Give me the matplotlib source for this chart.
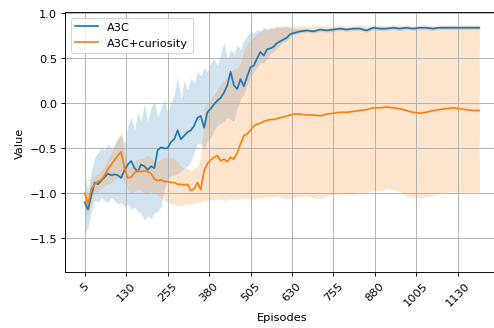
import numpy as np
import matplotlib
matplotlib.use("Agg")
import matplotlib.pyplot as plt

# episodes: every 10 up to 655, then every 20
episodes = np.concatenate([np.arange(5, 665, 10), np.arange(675, 1200, 20)])

a3c_mean = [
    -1.10, -1.18, -1.02, -0.88, -0.90, -0.86, -0.82, -0.78, -0.80, -0.79, -0.80,
    -0.83, -0.74, -0.68, -0.64, -0.72, -0.76, -0.68, -0.70, -0.74, -0.70, -0.72,
    -0.52, -0.49, -0.50, -0.50, -0.43, -0.40, -0.30, -0.40, -0.36, -0.32, -0.30,
    -0.25, -0.16, -0.14, -0.27, -0.10, -0.06, -0.01, 0.03, 0.06, 0.12, 0.20,
    0.35, 0.20, 0.16, 0.27, 0.19, 0.30, 0.40, 0.42, 0.50, 0.57, 0.53,
    0.60, 0.61, 0.63, 0.67, 0.69, 0.71, 0.73, 0.77, 0.78, 0.79, 0.80,
    0.81, 0.80, 0.82, 0.81, 0.82, 0.83, 0.82, 0.83, 0.83, 0.81, 0.84, 0.83, 0.83, 0.84,
    0.83, 0.84, 0.83, 0.84, 0.84, 0.83, 0.84, 0.84, 0.84, 0.84, 0.84, 0.84, 0.84]
a3c_upper = [
    -0.82, -0.95, -0.75, -0.60, -0.55, -0.50, -0.52, -0.45, -0.50, -0.47, -0.40,
    -0.33, -0.45, -0.25, -0.15, -0.30, -0.10, -0.20, 0.00, -0.20, -0.05, 0.02,
    -0.15, -0.05, 0.05, -0.10, 0.00, 0.10, 0.30, 0.05, 0.25, 0.15, 0.28,
    0.22, 0.35, 0.30, 0.40, 0.35, 0.45, 0.50, 0.42, 0.55, 0.68, 0.50,
    0.60, 0.55, 0.65, 0.60, 0.70, 0.75, 0.80, 0.78, 0.82, 0.80, 0.85,
    0.82, 0.84, 0.83, 0.85, 0.84, 0.85, 0.85, 0.84, 0.83, 0.83, 0.83,
    0.83, 0.82, 0.84, 0.83, 0.84, 0.85, 0.84, 0.85, 0.85, 0.83, 0.86, 0.85, 0.85, 0.86,
    0.85, 0.86, 0.85, 0.86, 0.86, 0.85, 0.86, 0.86, 0.86, 0.86, 0.86, 0.86, 0.86]
a3c_lower = [
    -1.45, -1.38, -1.20, -1.08, -1.10, -1.05, -1.08, -1.10, -1.05, -1.08, -1.12,
    -1.10, -1.15, -1.12, -1.18, -1.15, -1.20, -1.22, -1.30, -1.25, -1.28, -1.22,
    -1.20, -1.15, -0.95, -0.85, -0.80, -0.80, -0.78, -0.75, -0.72, -0.70, -0.65,
    -0.55, -0.45, -0.45, -0.50, -0.42, -0.38, -0.30, -0.25, -0.22, -0.20, -0.15,
    -0.18, -0.20, -0.05, 0.05, 0.10, 0.20, 0.30, 0.35, 0.40, 0.45, 0.45,
    0.50, 0.55, 0.58, 0.62, 0.65, 0.68, 0.70, 0.74, 0.76, 0.77, 0.78,
    0.79, 0.78, 0.80, 0.79, 0.80, 0.81, 0.80, 0.81, 0.81, 0.79, 0.82, 0.81, 0.81, 0.82,
    0.81, 0.82, 0.81, 0.82, 0.82, 0.81, 0.82, 0.82, 0.82, 0.82, 0.82, 0.82, 0.82]

cur_mean = [
    -1.00, -1.12, -0.95, -0.90, -0.87, -0.85, -0.80, -0.73, -0.68, -0.63, -0.58,
    -0.54, -0.72, -0.83, -0.82, -0.77, -0.75, -0.76, -0.75, -0.76, -0.78, -0.84,
    -0.86, -0.85, -0.87, -0.87, -0.88, -0.88, -0.90, -0.90, -0.91, -0.90, -0.97,
    -0.95, -0.88, -0.96, -0.75, -0.67, -0.63, -0.60, -0.58, -0.64, -0.62, -0.65,
    -0.60, -0.62, -0.55, -0.45, -0.36, -0.34, -0.30, -0.25, -0.23, -0.22, -0.20,
    -0.19, -0.18, -0.18, -0.17, -0.16, -0.15, -0.14, -0.13, -0.12, -0.12, -0.12,
    -0.13, -0.13, -0.14, -0.12, -0.11, -0.10, -0.10, -0.09, -0.08, -0.07, -0.05, -0.05, -0.04, -0.05,
    -0.06, -0.08, -0.10, -0.11, -0.10, -0.08, -0.07, -0.06, -0.05, -0.06, -0.07, -0.08, -0.08]
cur_upper = [
    -0.95, -1.00, -0.85, -0.80, -0.78, -0.75, -0.70, -0.62, -0.55, -0.45, -0.38,
    -0.35, -0.55, -0.70, -0.70, -0.65, -0.62, -0.62, -0.60, -0.58, -0.60, -0.65,
    -0.65, -0.62, -0.60, -0.60, -0.60, -0.62, -0.65, -0.70, -0.72, -0.72, -0.75,
    -0.72, -0.70, -0.60, -0.05, 0.00, 0.05, 0.10, 0.15, 0.22, 0.25, 0.30,
    0.35, 0.38, 0.40, 0.45, 0.60, 0.65, 0.70, 0.74, 0.78, 0.80, 0.82,
    0.83, 0.84, 0.85, 0.86, 0.86, 0.86, 0.86, 0.86, 0.86, 0.86, 0.86,
    0.86, 0.86, 0.87, 0.86, 0.86, 0.87, 0.86, 0.87, 0.87, 0.86, 0.87, 0.87, 0.86, 0.87,
    0.87, 0.87, 0.86, 0.87, 0.87, 0.86, 0.87, 0.87, 0.87, 0.87, 0.87, 0.87, 0.87]
cur_lower = [
    -1.20, -1.25, -1.10, -1.00, -0.98, -0.95, -0.92, -0.90, -0.88, -0.85, -0.82,
    -0.80, -0.88, -0.95, -1.00, -0.98, -0.95, -0.97, -1.00, -1.00, -0.98, -1.00,
    -1.02, -1.05, -1.08, -1.10, -1.12, -1.12, -1.13, -1.14, -1.13, -1.12, -1.12,
    -1.11, -1.10, -1.10, -1.08, -1.08, -1.07, -1.07, -1.06, -1.07, -1.08, -1.07,
    -1.06, -1.06, -1.07, -1.06, -1.05, -1.06, -1.07, -1.06, -1.05, -1.05, -1.04,
    -1.04, -1.05, -1.04, -1.03, -1.04, -1.05, -1.06, -1.06, -1.05, -1.04, -1.04,
    -1.03, -1.05, -1.06, -1.03, -1.01, -1.02, -1.01, -1.02, -1.00, -0.99, -0.97, -0.97, -0.95, -0.96,
    -0.98, -1.03, -1.05, -1.05, -1.04, -1.03, -1.00, -0.99, -0.98, -0.99, -0.99, -0.99, -0.99]

xtick_vals = [5, 130, 255, 380, 505, 630, 755, 880, 1005, 1130]

dpi = 82
fig = plt.figure(figsize=(495 / dpi, 329 / dpi), dpi=dpi)
ax = fig.add_axes([65 / 495, 56 / 329, 434 / 495, 260 / 329])

ax.plot(episodes, a3c_mean, color='tab:blue', linewidth=1.5, label='A3C')
ax.fill_between(episodes, a3c_lower, a3c_upper, color='tab:blue', alpha=0.2, linewidth=0)
ax.plot(episodes, cur_mean, color='tab:orange', linewidth=1.5, label='A3C+curiosity')
ax.fill_between(episodes, cur_lower, cur_upper, color='tab:orange', alpha=0.2, linewidth=0)

ax.set_xticks(xtick_vals)
ax.set_xticklabels([str(v) for v in xtick_vals], rotation=45)
ax.set_xlim(-54.5, 1254.5)
ax.set_ylim(-1.875, 1.015)
ax.set_yticks([-1.5, -1.0, -0.5, 0.0, 0.5, 1.0])
ax.set_xlabel('Episodes')
ax.set_ylabel('Value')
ax.grid(True)
ax.legend(loc='upper left')

fig.savefig('out.png', dpi=dpi)
